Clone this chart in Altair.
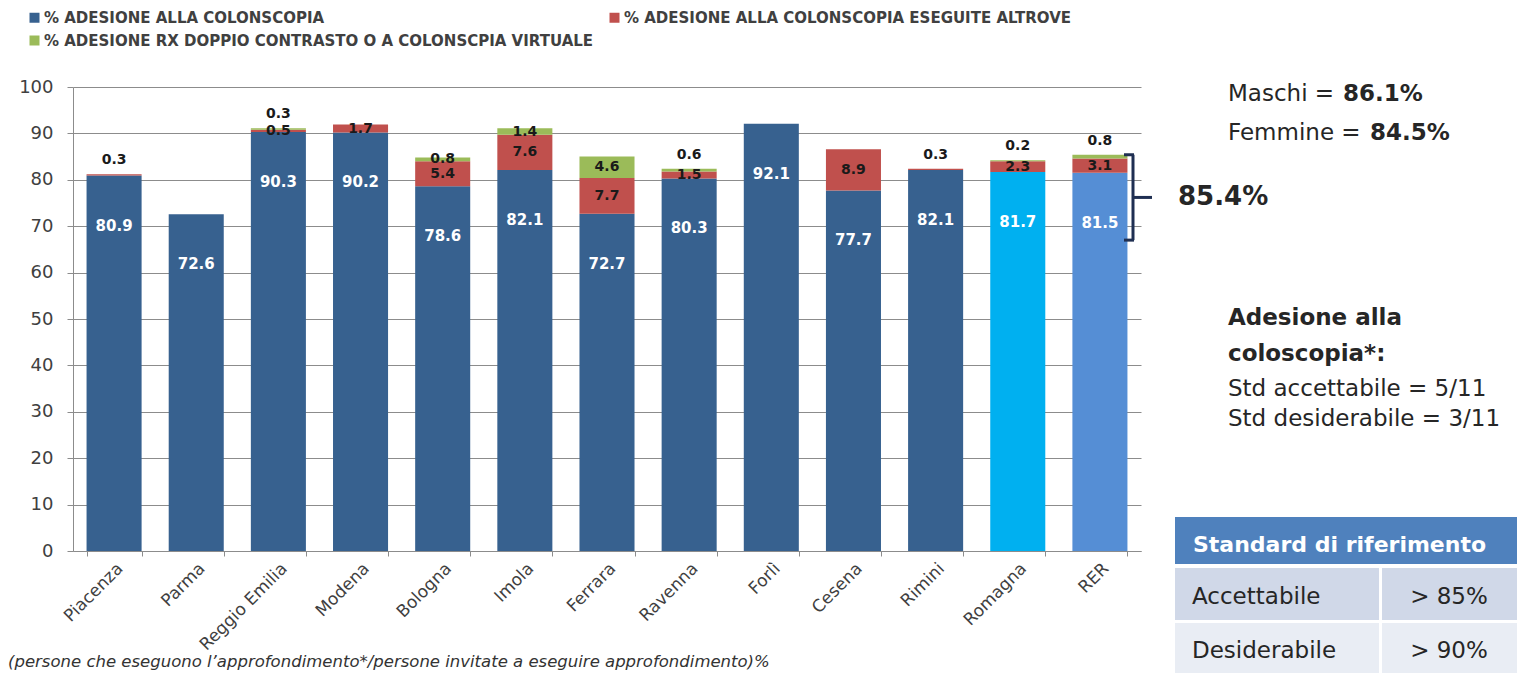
import altair as alt
import pandas as pd

FONT = "DejaVu Sans"

categories = ["Piacenza", "Parma", "Reggio Emilia", "Modena", "Bologna", "Imola",
              "Ferrara", "Ravenna", "Forlì", "Cesena", "Rimini", "Romagna", "RER"]
colonscopia = [80.9, 72.6, 90.3, 90.2, 78.6, 82.1, 72.7, 80.3, 92.1, 77.7, 82.1, 81.7, 81.5]
altrove = [0.3, 0.0, 0.5, 1.7, 5.4, 7.6, 7.7, 1.5, 0.0, 8.9, 0.3, 2.3, 3.1]
rx_virtuale = [0.0, 0.0, 0.3, 0.0, 0.8, 1.4, 4.6, 0.6, 0.0, 0.0, 0.0, 0.2, 0.8]

S1 = "% ADESIONE ALLA COLONSCOPIA"
S2 = "% ADESIONE ALLA COLONSCOPIA ESEGUITE ALTROVE"
S3 = "% ADESIONE RX DOPPIO CONTRASTO  O A COLONSCPIA VIRTUALE"

color_domain = [S1, S2, S3, "Romagna", "RER"]
color_range = ["#37618F", "#C0504D", "#9BBB59", "#00B0F0", "#558ED5"]

bracket_top = 85.4
bracket_bottom = 67.0

# ---------- tables ----------
seg_rows, blue_lab, dark_lab = [], [], []
for c, b, r, g in zip(categories, colonscopia, altrove, rx_virtuale):
    key = c if c in ("Romagna", "RER") else S1
    seg_rows.append(dict(cat=c, key=key, y0=0.0, y1=b, order=1))
    blue_lab.append(dict(cat=c, ly=b, txt=f"{b:.1f}"))
    top = b + r + g
    red_ly = None
    if r > 0:
        seg_rows.append(dict(cat=c, key=S2, y0=b, y1=b + r, order=2))
        red_ly = b + r / 2
        if g == 0 and r < 0.5:
            red_ly = top + 3.0
        dark_lab.append(dict(cat=c, ly=red_ly, txt=f"{r:.1f}"))
    if g > 0:
        seg_rows.append(dict(cat=c, key=S3, y0=b + r, y1=top, order=3))
        gly = b + r + g / 2
        if red_ly is not None and gly - red_ly < 3:
            gly = top + 3.0
        dark_lab.append(dict(cat=c, ly=gly, txt=f"{g:.1f}"))

segs = pd.DataFrame(seg_rows)
blue_df = pd.DataFrame(blue_lab)
dark_df = pd.DataFrame(dark_lab)

GRID = "#8C8C8C"
xscale = alt.Scale(domain=categories, paddingInner=0.33, paddingOuter=0.165)
yscale = alt.Scale(domain=[0, 100], nice=False)
xaxis = alt.Axis(title=None, labelAngle=-45, labelFontSize=17, labelColor="#404040",
                 labelFont=FONT, tickBand="extent", ticks=True, tickSize=5,
                 tickColor=GRID, domainColor=GRID, labelPadding=4,
                 labelAlign="right", labelBaseline="top")
yaxis = alt.Axis(title=None, values=list(range(0, 101, 10)), grid=True,
                 gridColor=GRID, gridWidth=1, domainColor=GRID, tickColor=GRID,
                 tickSize=6, labelFontSize=18, labelColor="#404040", labelFont=FONT,
                 labelPadding=14)

X = alt.X("cat:N", sort=categories, scale=xscale, axis=xaxis)

bars = alt.Chart(segs).mark_bar().encode(
    x=X,
    y=alt.Y("y1:Q", scale=yscale, axis=yaxis),
    y2="y0:Q",
    color=alt.Color("key:N", scale=alt.Scale(domain=color_domain, range=color_range),
                    legend=alt.Legend(title=None, values=[S1, S2, S3], orient="none",
                                      legendX=-46, legendY=-77, direction="horizontal",
                                      columns=2, columnPadding=8, rowPadding=7,
                                      symbolType="square", symbolSize=100,
                                      symbolStrokeWidth=0, labelFont=FONT,
                                      labelFontSize=15, labelFontWeight="bold",
                                      labelColor="#404040", labelLimit=800,
                                      labelOffset=2)),
    order="order:Q",
)

blue_text = alt.Chart(blue_df).mark_text(
    font=FONT, fontSize=15, fontWeight="bold", color="white", dy=50, baseline="middle"
).encode(x=X, y=alt.Y("ly:Q", scale=yscale, axis=yaxis), text="txt:N")

dark_text = alt.Chart(dark_df).mark_text(
    font=FONT, fontSize=14, fontWeight="bold", color="#1A1A1A", baseline="middle"
).encode(x=X, y=alt.Y("ly:Q", scale=yscale, axis=yaxis), text="txt:N")

one = pd.DataFrame({"a": [0]})
BR = "#1F2F52"
br_v = alt.Chart(one).mark_rule(strokeWidth=3, color=BR).encode(
    x=alt.value(1060), y=alt.datum(bracket_top), y2=alt.datum(bracket_bottom))
br_t = alt.Chart(one).mark_rule(strokeWidth=3, color=BR).encode(
    x=alt.value(1051), x2=alt.value(1061), y=alt.datum(bracket_top))
br_b = alt.Chart(one).mark_rule(strokeWidth=3, color=BR).encode(
    x=alt.value(1051), x2=alt.value(1061), y=alt.datum(bracket_bottom))
br_m = alt.Chart(one).mark_rule(strokeWidth=3, color=BR).encode(
    x=alt.value(1060), x2=alt.value(1079), y=alt.datum((bracket_top + bracket_bottom) / 2))


def txt(s, x, y, size=23, weight="normal", color="#262626", align="left", style="normal"):
    return alt.Chart(one).mark_text(
        text=s, font=FONT, fontSize=size, fontWeight=weight, color=color,
        align=align, baseline="alphabetic", fontStyle=style
    ).encode(x=alt.value(x), y=alt.value(y))


def box(x0, x1, y0, y1, fill):
    return alt.Chart(one).mark_rect(color=fill).encode(
        x=alt.value(x0), x2=alt.value(x1), y=alt.value(y0), y2=alt.value(y1))


annots = [
    txt("Maschi = ", 1155, 14), txt("86.1%", 1270, 14, weight="bold"),
    txt("Femmine = ", 1155, 53), txt("84.5%", 1297, 53, weight="bold"),
    txt("85.4%", 1105, 118, size=26, weight="bold"),
    txt("Adesione alla", 1155, 238, weight="bold"),
    txt("coloscopia*:", 1155, 274, weight="bold"),
    txt("Std accettabile = 5/11", 1155, 309),
    txt("Std desiderabile = 3/11", 1155, 339),
    box(1102, 1444, 430, 477, "#4F81BD"),
    box(1102, 1306, 481, 533, "#D0D8E8"), box(1309, 1444, 481, 533, "#D0D8E8"),
    box(1102, 1306, 536, 586, "#E9EDF4"), box(1309, 1444, 536, 586, "#E9EDF4"),
    txt("Standard di riferimento", 1120, 465, size=22, weight="bold", color="white"),
    txt("Accettabile", 1119, 517), txt("> 85%", 1376, 517, align="center"),
    txt("Desiderabile", 1119, 571), txt("> 90%", 1376, 571, align="center"),
    txt("(persone che eseguono l’approfondimento*/persone invitate a eseguire approfondimento)%",
        -65, 580, size=16.5, color="#333333", style="italic"),
]

chart = alt.layer(bars, blue_text, dark_text, br_v, br_t, br_b, br_m, *annots).properties(
    width=1068, height=464,
    autosize=alt.AutoSizeParams(type="none"),
    padding={"left": 65, "top": 79, "right": 377, "bottom": 124},
).configure_view(stroke=None)

chart.save("out.html", embed_options={"renderer": "svg", "actions": False})
